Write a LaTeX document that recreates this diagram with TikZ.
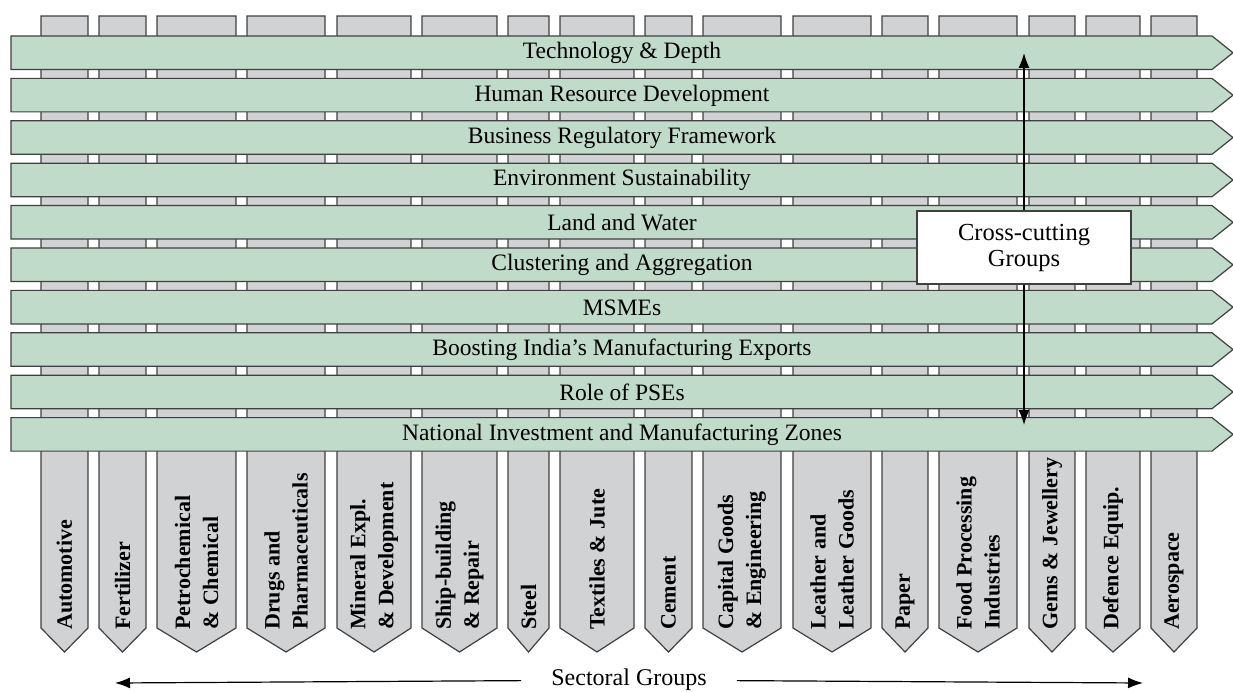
\documentclass[tikz,border=0pt]{standalone}
\usepackage{fontspec}
\setmainfont{Liberation Serif}
\usetikzlibrary{arrows.meta,positioning,calc}

\definecolor{bandgreen}{RGB}{193,219,202}
\definecolor{colgray}{RGB}{209,210,212}
\definecolor{edgegray}{RGB}{64,64,64}

\tikzset{
  colshape/.style={draw=edgegray, fill=colgray, line width=1.2pt},
  bandshape/.style={draw=edgegray, fill=bandgreen, line width=1.2pt},
  collabel/.style={rotate=90, anchor=west, align=left, inner sep=0pt, font=\fontsize{22}{28}\selectfont\bfseries},
  bandlabel/.style={inner sep=0pt, font=\fontsize{23.5}{27}\selectfont},
  groupbox/.style={draw=edgegray, fill=white, line width=1.2pt, minimum width=214pt, minimum height=73pt, align=center, font=\fontsize{24.5}{26}\selectfont},
  grouparrow/.style={line width=1.2pt, {Latex[length=15pt,width=11pt]}-{Latex[length=15pt,width=11pt]}},
  sectorarrow/.style={line width=1.2pt, -{Latex[length=15pt,width=11pt]}}
}

\begin{document}
\begin{tikzpicture}[x=1pt, y=-1pt]
    \useasboundingbox (0,0) rectangle (1233,692);

    % sectoral columns
    \foreach \a/\b/\txt [count=\i] in {41/88/Automotive, 99/146/Fertilizer, 157/236/{Petrochemical\\\& Chemical}, 247/325/{Drugs and\\Pharmaceuticals}, 337/411/{Mineral Expl.\\\& Development}, 422/497/{Ship-building\\\& Repair}, 508/549/Steel, 560/634/{Textiles \& Jute}, 645/692/Cement, 703/781/{Capital Goods\\\& Engineering}, 793/871/{Leather and\\Leather Goods}, 882/928/Paper, 939/1017/{Food Processing\\Industries}, 1029/1075/{Gems \& Jewellery}, 1086/1140/{Defence Equip.}, 1151/1197/Aerospace}
    {
        \draw[colshape] (\a,16) -- (\b,16) -- (\b,628) -- ({(\a+\b)/2},652) -- (\a,628) -- cycle;
        \node[collabel] (col\i) at ({(\a+\b)/2},630) {\txt};
    }

    % cross-cutting bands
    \foreach \txt [count=\i from 0] in {Technology \& Depth, Human Resource Development, Business Regulatory Framework, Environment Sustainability, Land and Water, Clustering and Aggregation, MSMEs, Boosting India’s Manufacturing Exports, Role of PSEs, National Investment and Manufacturing Zones}
    {
        \pgfmathsetmacro{\yt}{36+42.4*\i}
        \draw[bandshape] (11,\yt) -- (1212,\yt) -- (1233,\yt+16.75) -- (1212,\yt+33.5) -- (11,\yt+33.5) -- cycle;
        \node[bandlabel] (band\i) at (622,\yt+17) {\txt};
    }

    \coordinate (crosstop) at (1024,53);
    \coordinate (crossbot) at (1024,425);
    \draw[grouparrow] (crosstop) -- (crossbot);
    \node[groupbox] (cross) at (1024,247.5) {Cross-cutting\\Groups};

    \coordinate (sectleft) at (115,683);
    \coordinate (sectright) at (1143,683);
    \node[font=\fontsize{24}{27}\selectfont, fill=white, inner xsep=30pt, inner ysep=2pt] (sector) at (629,680) {Sectoral Groups};
    \draw[sectorarrow] (sector) -- (sectleft);
    \draw[sectorarrow] (sector) -- (sectright);
\end{tikzpicture}
\end{document}
